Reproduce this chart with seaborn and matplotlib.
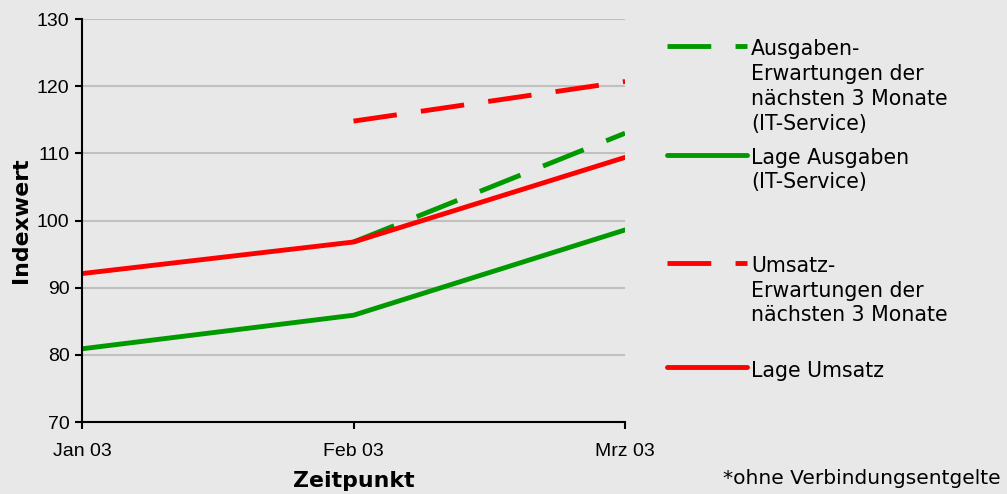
import numpy as np
import pandas as pd
import seaborn as sns
import matplotlib.pyplot as plt
from matplotlib.legend_handler import HandlerLine2D

# data
months = ["Jan 03", "Feb 03", "Mrz 03"]
ausgaben_erwartung = [np.nan, 96.8, 113.0]
lage_ausgaben = [80.9, 85.9, 98.6]
umsatz_erwartung = [np.nan, 114.8, 120.7]
lage_umsatz = [92.1, 96.8, 109.4]

series_names = [
    "Ausgaben-\nErwartungen der\nnächsten 3 Monate\n(IT-Service)",
    "Lage Ausgaben\n(IT-Service)",
    "Umsatz-\nErwartungen der\nnächsten 3 Monate",
    "Lage Umsatz",
]
series_values = [ausgaben_erwartung, lage_ausgaben, umsatz_erwartung, lage_umsatz]
series_colors = ["#009900", "#009900", "#ff0000", "#ff0000"]
series_dashes = [(9, 5), "", (9, 5), ""]

rows = []
for name, vals in zip(series_names, series_values):
    for i, v in enumerate(vals):
        rows.append({"pos": i, "Indexwert": v, "Serie": name})
df = pd.DataFrame(rows).dropna()

sns.set_theme(style="white", rc={"axes.facecolor": "#e8e8e8", "figure.facecolor": "#e8e8e8",
                                 "text.color": "black", "axes.labelcolor": "black",
                                 "xtick.color": "black", "ytick.color": "black"})
plt.rcParams["font.family"] = ["Liberation Sans", "DejaVu Sans"]

fig = plt.figure(figsize=(10.07, 4.94), dpi=100)
ax = fig.add_axes([0.0814, 0.1457, 0.5393, 0.8158])

sns.lineplot(data=df, x="pos", y="Indexwert", hue="Serie", style="Serie",
             hue_order=series_names, style_order=series_names,
             palette=dict(zip(series_names, series_colors)),
             dashes=dict(zip(series_names, series_dashes)),
             linewidth=3.5, legend=False, ax=ax)

ax.set_xlim(0, len(months) - 1)
ax.set_ylim(70, 130)
ax.set_yticks(range(70, 131, 10))
ax.set_xticks(range(len(months)))
ax.set_xticklabels(months)
ax.yaxis.grid(True, color="#c0c0c0", linewidth=1.5)
ax.set_axisbelow(True)
for s in ["top", "right"]:
    ax.spines[s].set_visible(False)
for s in ["left", "bottom"]:
    ax.spines[s].set_color("black")
    ax.spines[s].set_linewidth(1.5)
ax.tick_params(axis="both", direction="out", length=5, width=1.5, color="black",
               labelsize=14, left=True, bottom=True)
ax.tick_params(axis="x", pad=10)
ax.tick_params(axis="y", pad=4)
ax.set_xlabel("Zeitpunkt", fontsize=15.8, fontweight="bold", family="DejaVu Sans", labelpad=8)
ax.set_ylabel("Indexwert", fontsize=15.8, fontweight="bold", family="DejaVu Sans", labelpad=4)


class FirstLineHandler(HandlerLine2D):
    # put the legend line next to the first text line
    def __init__(self, n_lines, **kw):
        super().__init__(**kw)
        self.n_lines = n_lines

    def create_artists(self, legend, orig_handle, xdescent, ydescent, width, height, fontsize, trans):
        arts = super().create_artists(legend, orig_handle, xdescent, ydescent, width, height, fontsize, trans)
        shift = (self.n_lines - 1) / 2 * 1.24 * fontsize + 0.15 * fontsize
        for a in arts:
            a.set_ydata(np.asarray(a.get_ydata()) + shift)
        return arts


lines = ax.get_lines()
legend_tops = [0.941, 0.722, 0.503, 0.29]
for line, name, top in zip(lines, series_names, legend_tops):
    n = name.count("\n") + 1
    leg = fig.legend([line], [name], loc="upper left", bbox_to_anchor=(0.652, top),
                     frameon=False, borderpad=0, handlelength=3.9, handletextpad=0.2,
                     prop={"family": "DejaVu Sans", "size": 14.8},
                     handler_map={line: FirstLineHandler(n)})
    for t in leg.get_texts():
        t.set_linespacing(1.3)

fig.text(0.994, 0.032, "*ohne Verbindungsentgelte", ha="right", va="center",
         fontsize=14.5, family="DejaVu Sans")

plt.savefig("out.png", dpi=100)
